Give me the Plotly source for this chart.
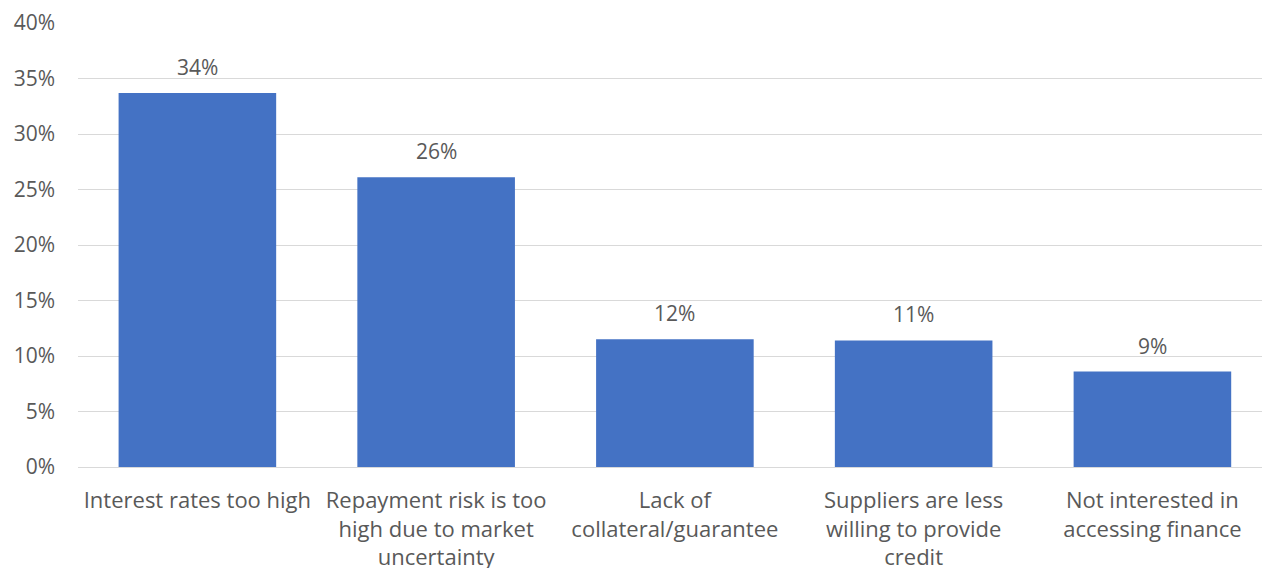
import plotly.graph_objects as go

categories = [
    "Interest rates too high",
    "Repayment risk is too<br>high due to market<br>uncertainty",
    "Lack of<br>collateral/guarantee",
    "Suppliers are less<br>willing to provide<br>credit",
    "Not interested in<br>accessing finance",
]
shares = [0.337, 0.261, 0.115, 0.114, 0.086]
y_ticks = [0, 0.05, 0.10, 0.15, 0.20, 0.25, 0.30, 0.35, 0.40]

FONT = "Open Sans, Liberation Sans, Arial, sans-serif"
GREY = "#595959"

fig = go.Figure(
    go.Bar(
        x=categories,
        y=shares,
        marker=dict(color="#4472C4", line=dict(width=0)),
        width=0.66,
        hoverinfo="skip",
    )
)

# value labels above each bar
for cat, val in zip(categories, shares):
    fig.add_annotation(
        x=cat, y=val, text=f"{round(val * 100)}%", showarrow=False,
        yanchor="bottom", yshift=10,
        font=dict(family=FONT, size=21, color=GREY),
    )

fig.update_layout(
    width=1262, height=568,
    margin=dict(l=78, r=0, t=23, b=101),
    paper_bgcolor="white", plot_bgcolor="white",
    showlegend=False,
    font=dict(family=FONT, size=21, color=GREY),
    xaxis=dict(
        type="category",
        range=[-0.5, 4.459],
        automargin=False,
        showgrid=False, showline=False, zeroline=False,
        ticks="", ticklabelstandoff=18,
        tickfont=dict(family=FONT, size=22, color=GREY),
    ),
    yaxis=dict(
        range=[0, 0.40],
        automargin=False,
        tickvals=y_ticks, tickformat=".0%",
        showgrid=True, gridcolor="#d9d9d9", gridwidth=1.3,
        zeroline=True, zerolinecolor="#d9d9d9", zerolinewidth=1.3,
        showline=False, ticks="", ticklabelstandoff=22,
        tickfont=dict(family=FONT, size=21, color=GREY),
    ),
)

fig.write_html("out.html")
